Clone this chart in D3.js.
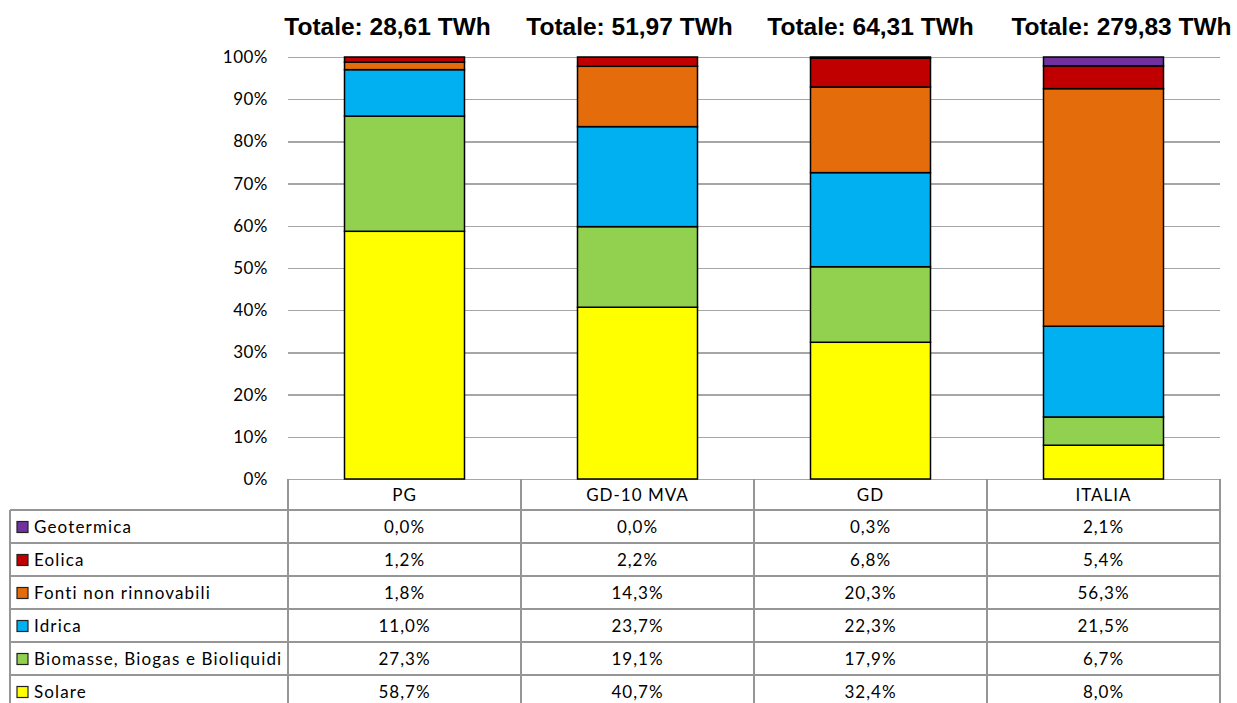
<!DOCTYPE html>
<html><head><meta charset="utf-8">
<script src="https://cdn.jsdelivr.net/npm/d3@7"></script>
<style>
html,body{margin:0;padding:0;background:#fff;}
svg{display:block;}
</style></head>
<body>
<svg id="chart" width="1237" height="703"></svg>
<script>
// ---- data ----
const categories = ["PG", "GD-10 MVA", "GD", "ITALIA"];
const totals = ["Totale: 28,61 TWh", "Totale: 51,97 TWh", "Totale: 64,31 TWh", "Totale: 279,83 TWh"];
const seriesNames = ["Solare", "Biomasse, Biogas e Bioliquidi", "Idrica", "Fonti non rinnovabili", "Eolica", "Geotermica"];
const solare = [58.7, 40.7, 32.4, 8.0];
const biomasse = [27.3, 19.1, 17.9, 6.7];
const idrica = [11.0, 23.7, 22.3, 21.5];
const fonti = [1.8, 14.3, 20.3, 56.3];
const eolica = [1.2, 2.2, 6.8, 5.4];
const geotermica = [0.0, 0.0, 0.3, 2.1];
const seriesColors = ["#FFFF00", "#92D050", "#00B0F0", "#E46C0A", "#C00000", "#7030A0"];
const yTicks = [0, 10, 20, 30, 40, 50, 60, 70, 80, 90, 100];

const seriesValues = [solare, biomasse, idrica, fonti, eolica, geotermica];
const rows = categories.map((c, i) => {
  const r = {cat: c};
  seriesNames.forEach((s, j) => r[s] = seriesValues[j][i]);
  return r;
});

// ---- layout ----
const svg = d3.select("#chart");
const plotL = 288, plotR = 1220, plotT = 57, plotB = 479;
const fontTxt = "Lato, 'Open Sans', sans-serif";
const gridColor = "#a6a6a6";
const tableColor = "#969696";

const x = d3.scaleBand().domain(categories).range([plotL, plotR]).paddingInner(0.485).paddingOuter(0.2425);
const y = d3.scaleLinear().domain([0, 100]).range([plotB, plotT]);

// gridlines + y labels
const yAxis = d3.axisLeft(y).tickValues(yTicks).tickSize(-(plotR - plotL)).tickPadding(20).tickFormat(d => d + "%");
const gAxis = svg.append("g").attr("transform", `translate(${plotL},0)`).call(yAxis);
gAxis.select(".domain").remove();
gAxis.selectAll(".tick line").attr("stroke", gridColor).attr("stroke-width", 1.3).attr("shape-rendering", "crispEdges");
gAxis.selectAll(".tick text").attr("font-family", fontTxt).attr("font-size", 17).attr("letter-spacing", 0.5).attr("fill", "#000");

// bars
const stack = d3.stack().keys(seriesNames);
const stacked = stack(rows);
svg.append("g").selectAll("g").data(stacked).join("g")
  .attr("fill", (d, i) => seriesColors[i])
  .selectAll("rect").data(d => d).join("rect")
  .attr("x", d => x(d.data.cat))
  .attr("width", x.bandwidth())
  .attr("y", d => y(d[1]))
  .attr("height", d => Math.max(0, y(d[0]) - y(d[1])))
  .attr("stroke", d => (d[1] - d[0]) > 0 ? "#000" : "none")
  .attr("stroke-width", 1.5);

// titles
const titleOffsets = [-17, -8, 0, 18];
svg.append("g").selectAll("text").data(totals).join("text")
  .attr("x", (d, i) => x(categories[i]) + x.bandwidth() / 2 + titleOffsets[i])
  .attr("y", 35)
  .attr("text-anchor", "middle")
  .attr("font-family", "'Liberation Sans', Arial, sans-serif")
  .attr("font-weight", "bold")
  .attr("font-size", 24.5)
  .text(d => d);

// ---- data table ----
const colStep = x.step();
const colLeft = c => x(c) - (colStep - x.bandwidth()) / 2;
const headerTop = plotB, headerBot = 510, rowH = 33;
const tableRows = seriesNames.slice().reverse();
const tableRowColors = seriesColors.slice().reverse();
const tableRowVals = seriesValues.slice().reverse();
const legendLeft = 10;
const tableBottom = headerBot + rowH * tableRows.length;
const tg = svg.append("g");

// vertical lines
const vx = categories.map(colLeft).concat([plotR]);
tg.selectAll("line.v").data(vx).join("line").attr("class", "v")
  .attr("x1", d => d).attr("x2", d => d).attr("y1", headerTop).attr("y2", tableBottom)
  .attr("stroke", tableColor).attr("stroke-width", 1.3).attr("shape-rendering", "crispEdges");
tg.append("line").attr("x1", legendLeft).attr("x2", legendLeft).attr("y1", headerBot).attr("y2", tableBottom)
  .attr("stroke", tableColor).attr("stroke-width", 1.3).attr("shape-rendering", "crispEdges");
// horizontal lines
const hy = d3.range(tableRows.length + 1).map(i => headerBot + i * rowH);
tg.selectAll("line.h").data(hy).join("line").attr("class", "h")
  .attr("x1", legendLeft).attr("x2", plotR).attr("y1", d => d).attr("y2", d => d)
  .attr("stroke", tableColor).attr("stroke-width", 1.3).attr("shape-rendering", "crispEdges");

// header labels
tg.selectAll("text.hdr").data(categories).join("text").attr("class", "hdr")
  .attr("x", c => x(c) + x.bandwidth() / 2)
  .attr("y", (headerTop + headerBot) / 2 + 6.5)
  .attr("text-anchor", "middle").attr("font-family", fontTxt).attr("font-size", 17)
  .attr("letter-spacing", 1)
  .text(c => c);

// rows
tableRows.forEach((name, r) => {
  const cy = headerBot + r * rowH + rowH / 2;
  tg.append("rect").attr("x", 17).attr("y", cy - 5).attr("width", 11).attr("height", 11)
    .attr("fill", tableRowColors[r]).attr("stroke", "#222").attr("stroke-width", 1.2);
  tg.append("text").attr("x", 34).attr("y", cy + 6.5)
    .attr("font-family", fontTxt).attr("font-size", 17).attr("letter-spacing", 1.15).text(name);
  tg.selectAll(null).data(categories).join("text")
    .attr("x", c => x(c) + x.bandwidth() / 2)
    .attr("y", cy + 6.5)
    .attr("text-anchor", "middle").attr("font-family", fontTxt).attr("font-size", 17)
    .attr("letter-spacing", 1)
    .text((c, i) => d3.format(".1f")(tableRowVals[r][i]).replace(".", ",") + "%");
});
</script>
</body></html>
